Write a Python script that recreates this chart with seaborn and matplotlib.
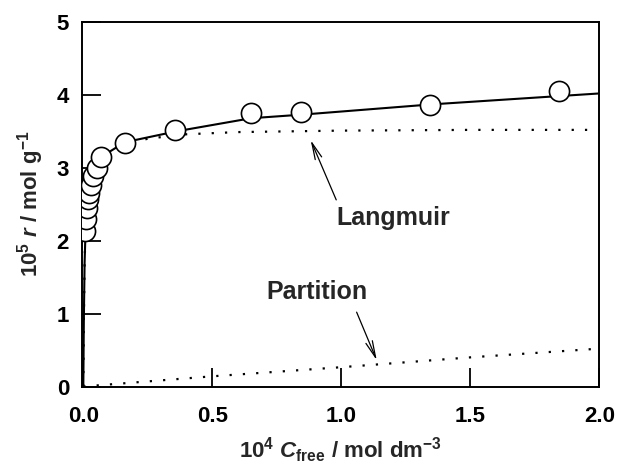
import numpy as np
import pandas as pd
import matplotlib
matplotlib.use("Agg")
import matplotlib.pyplot as plt
import seaborn as sns

# ---- data ----
c_obs = [0.007, 0.011, 0.013, 0.019, 0.022, 0.029, 0.039, 0.052, 0.068,
         0.16, 0.355, 0.65, 0.845, 1.345, 1.845]
r_obs = [2.13, 2.30, 2.45, 2.57, 2.66, 2.77, 2.89, 3.00, 3.15,
         3.34, 3.52, 3.75, 3.76, 3.86, 4.05]

c_total = [0.0, 0.002, 0.005, 0.01, 0.02, 0.04, 0.07, 0.16, 0.36, 0.65, 0.85, 1.35, 2.0]
r_total = [0.0, 0.9, 1.7, 2.3, 2.72, 2.98, 3.15, 3.35, 3.5, 3.68, 3.73, 3.87, 4.02]

c_lang = [0.0, 0.002, 0.005, 0.01, 0.02, 0.04, 0.08, 0.15, 0.25, 0.4, 0.6, 1.0, 1.5, 2.0]
r_lang = [0.0, 0.9, 1.7, 2.3, 2.72, 2.98, 3.17, 3.3, 3.4, 3.46, 3.49, 3.51, 3.52, 3.52]

c_part = [0.0, 0.5, 1.0, 1.5, 2.0]
r_part = [0.0, 0.14, 0.265, 0.40, 0.52]

x_ticks = [0.0, 0.5, 1.0, 1.5, 2.0]
x_ticklabels = ["0.0", "0.5", "1.0", "1.5", "2.0"]
y_ticks = [0, 1, 2, 3, 4, 5]
y_ticklabels = ["0", "1", "2", "3", "4", "5"]

sns.set_style("white")
plt.rcParams["font.family"] = ["Liberation Sans", "DejaVu Sans"]
plt.rcParams["mathtext.fontset"] = "custom"
plt.rcParams["mathtext.rm"] = "Liberation Sans"
plt.rcParams["mathtext.bf"] = "Liberation Sans:bold"
plt.rcParams["mathtext.it"] = "Liberation Sans:italic"
plt.rcParams["mathtext.bfit"] = "Liberation Sans:bold:italic"

fig = plt.figure(figsize=(6.17, 4.76), dpi=100)
ax = fig.add_axes([0.1321, 0.188, 0.9716 - 0.1321, 0.9538 - 0.188])

dotted = (0, (1, 5))
sns.lineplot(x=c_lang, y=r_lang, ax=ax, color="black", linewidth=1.6,
             linestyle=dotted, sort=False, estimator=None)
sns.lineplot(x=c_part, y=r_part, ax=ax, color="black", linewidth=1.6,
             linestyle=dotted, sort=False, estimator=None)
sns.lineplot(x=c_total, y=r_total, ax=ax, color="black", linewidth=1.5,
             sort=False, estimator=None)
sns.scatterplot(x=c_obs, y=r_obs, ax=ax, s=210, facecolor="white",
                edgecolor="black", linewidth=1.2, zorder=5)

ax.set_xlim(-0.007, 2.0)
ax.set_ylim(0, 4.99)
ax.set_xticks(x_ticks)
ax.set_xticklabels(x_ticklabels, fontsize=16, fontweight="bold")
ax.set_yticks(y_ticks)
ax.set_yticklabels(y_ticklabels, fontsize=16, fontweight="bold")
ax.tick_params(axis="both", direction="in", length=14, width=1.3,
               bottom=True, left=True, top=False, right=False, colors="black")
ax.tick_params(axis="x", pad=14)
ax.tick_params(axis="y", pad=9)
for s in ax.spines.values():
    s.set_visible(True)
    s.set_linewidth(1.4)
    s.set_color("black")

ax.set_xlabel(r"$\mathbf{10^{4}}$ $\mathbfit{C}_{\mathbf{free}}$ / mol dm$^{\mathbf{-3}}$",
              fontsize=16, fontweight="bold", labelpad=6)
ax.set_ylabel(r"$\mathbf{10^{5}}$ $\mathbfit{r}$ / mol g$^{\mathbf{-1}}$",
              fontsize=16, fontweight="bold", labelpad=8)

arrow = dict(arrowstyle="->,head_length=1.2,head_width=0.25", color="black",
             linewidth=0.9, shrinkA=0, shrinkB=0)
ax.annotate("", xy=(0.881, 3.38), xytext=(0.98, 2.56), arrowprops=arrow)
ax.text(1.199, 2.31, "Langmuir", fontsize=18, fontweight="bold",
        ha="center", va="center")
ax.annotate("", xy=(1.137, 0.36), xytext=(1.059, 1.02), arrowprops=arrow)
ax.text(0.905, 1.29, "Partition", fontsize=18, fontweight="bold",
        ha="center", va="center")

fig.savefig("out.png", dpi=100)
